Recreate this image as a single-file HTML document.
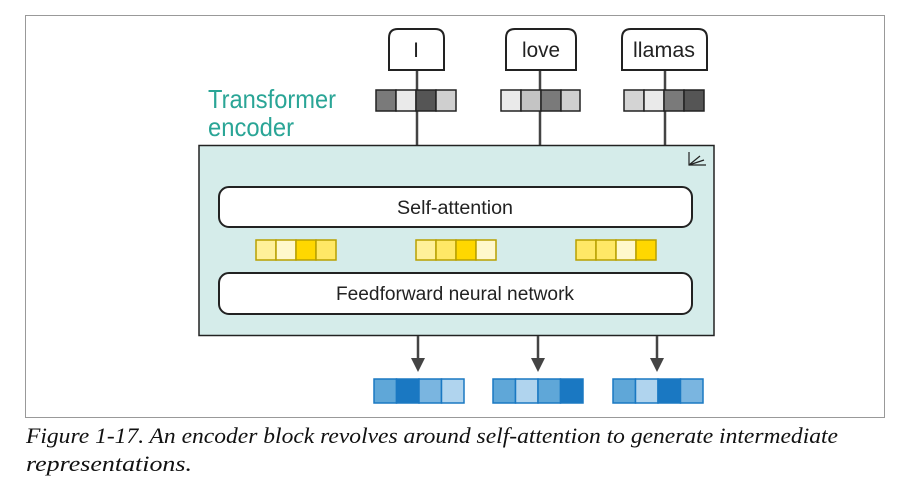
<!DOCTYPE html>
<html><head><meta charset="utf-8"><style>html,body{margin:0;padding:0;background:#fff}svg{display:block}</style></head><body>
<svg width="920" height="492" viewBox="0 0 920 492" xmlns="http://www.w3.org/2000/svg" font-family="Liberation Sans, sans-serif">
<rect x="25.5" y="15.5" width="859" height="402" fill="#fff" stroke="#999" stroke-width="1"/>
<g stroke="#444" stroke-width="2.5">
<line x1="417" y1="70" x2="417" y2="145"/><line x1="540" y1="70" x2="540" y2="145"/><line x1="665" y1="70" x2="665" y2="145"/>
</g>
<g fill="#fff" stroke="#222" stroke-width="2">
<path d="M389 70 V38 Q389 29 398 29 H435 Q444 29 444 38 V70 Z"/>
<path d="M506 70 V38 Q506 29 515 29 H567 Q576 29 576 38 V70 Z"/>
<path d="M622 70 V38 Q622 29 631 29 H698 Q707 29 707 38 V70 Z"/>
</g>
<g font-size="21" fill="#222" text-anchor="middle">
<text x="416" y="57">I</text><text x="541" y="57" textLength="38" lengthAdjust="spacingAndGlyphs">love</text><text x="664" y="57" textLength="62" lengthAdjust="spacingAndGlyphs">llamas</text>
</g>
<g stroke="#222" stroke-width="1.5">
<rect x="376" y="90" width="20" height="21" fill="#7a7a7a"/><rect x="396" y="90" width="20" height="21" fill="#eaeaea"/><rect x="416" y="90" width="20" height="21" fill="#555"/><rect x="436" y="90" width="20" height="21" fill="#cfcfcf"/>
<rect x="501" y="90" width="20" height="21" fill="#eaeaea"/><rect x="521" y="90" width="20" height="21" fill="#c4c4c4"/><rect x="541" y="90" width="20" height="21" fill="#7a7a7a"/><rect x="561" y="90" width="19" height="21" fill="#cfcfcf"/>
<rect x="624" y="90" width="20" height="21" fill="#d4d4d4"/><rect x="644" y="90" width="20" height="21" fill="#eaeaea"/><rect x="664" y="90" width="20" height="21" fill="#7a7a7a"/><rect x="684" y="90" width="20" height="21" fill="#555"/>
</g>
<text x="208" y="108" font-size="26" fill="#2aa596" textLength="128" lengthAdjust="spacingAndGlyphs">Transformer</text>
<text x="208" y="136" font-size="26" fill="#2aa596" textLength="86" lengthAdjust="spacingAndGlyphs">encoder</text>
<rect x="199" y="145.5" width="515" height="190" fill="#d5ecea" stroke="#222" stroke-width="1.5"/>
<g stroke="#222" stroke-width="1.2" fill="none"><path d="M689 152 V165 H706"/><path d="M689 165 L700 156"/><path d="M689 165 L704 160"/></g>
<rect x="219" y="187" width="473" height="40" rx="10" fill="#fff" stroke="#222" stroke-width="2"/>
<text x="455" y="214" font-size="19" fill="#222" text-anchor="middle" textLength="116" lengthAdjust="spacingAndGlyphs">Self-attention</text>
<rect x="219" y="273" width="473" height="41" rx="10" fill="#fff" stroke="#222" stroke-width="2"/>
<text x="455" y="300" font-size="19" fill="#222" text-anchor="middle" textLength="238" lengthAdjust="spacingAndGlyphs">Feedforward neural network</text>
<g stroke="#b8a000" stroke-width="1.5">
<rect x="256" y="240" width="20" height="20" fill="#fff099"/><rect x="276" y="240" width="20" height="20" fill="#fff8cc"/><rect x="296" y="240" width="20" height="20" fill="#ffd700"/><rect x="316" y="240" width="20" height="20" fill="#ffe866"/>
<rect x="416" y="240" width="20" height="20" fill="#fff099"/><rect x="436" y="240" width="20" height="20" fill="#ffe866"/><rect x="456" y="240" width="20" height="20" fill="#ffd700"/><rect x="476" y="240" width="20" height="20" fill="#fff8cc"/>
<rect x="576" y="240" width="20" height="20" fill="#ffe866"/><rect x="596" y="240" width="20" height="20" fill="#ffe866"/><rect x="616" y="240" width="20" height="20" fill="#fff8cc"/><rect x="636" y="240" width="20" height="20" fill="#ffd700"/>
</g>
<g stroke="#444" stroke-width="2.5"><line x1="418" y1="336" x2="418" y2="360"/><line x1="538" y1="336" x2="538" y2="360"/><line x1="657" y1="336" x2="657" y2="360"/></g>
<g fill="#444"><path d="M411 358 H425 L418 372 Z"/><path d="M531 358 H545 L538 372 Z"/><path d="M650 358 H664 L657 372 Z"/></g>
<g stroke="#1a78c2" stroke-width="1.5">
<rect x="374" y="379" width="22.5" height="24" fill="#5fa7d8"/><rect x="396.5" y="379" width="22.5" height="24" fill="#1a78c2"/><rect x="419" y="379" width="22.5" height="24" fill="#7ab5e0"/><rect x="441.5" y="379" width="22.5" height="24" fill="#b0d4ee"/>
<rect x="493" y="379" width="22.5" height="24" fill="#5fa7d8"/><rect x="515.5" y="379" width="22.5" height="24" fill="#b0d4ee"/><rect x="538" y="379" width="22.5" height="24" fill="#5fa7d8"/><rect x="560.5" y="379" width="22.5" height="24" fill="#1a78c2"/>
<rect x="613" y="379" width="22.5" height="24" fill="#5fa7d8"/><rect x="635.5" y="379" width="22.5" height="24" fill="#b0d4ee"/><rect x="658" y="379" width="22.5" height="24" fill="#1a78c2"/><rect x="680.5" y="379" width="22.5" height="24" fill="#7ab5e0"/>
</g>
<g font-family="Liberation Serif, serif" font-style="italic" font-size="22" fill="#111">
<text x="26" y="443" textLength="812" lengthAdjust="spacingAndGlyphs">Figure 1-17. An encoder block revolves around self-attention to generate intermediate</text>
<text x="26" y="471" textLength="166" lengthAdjust="spacingAndGlyphs">representations.</text>
</g>
</svg>
</body></html>
